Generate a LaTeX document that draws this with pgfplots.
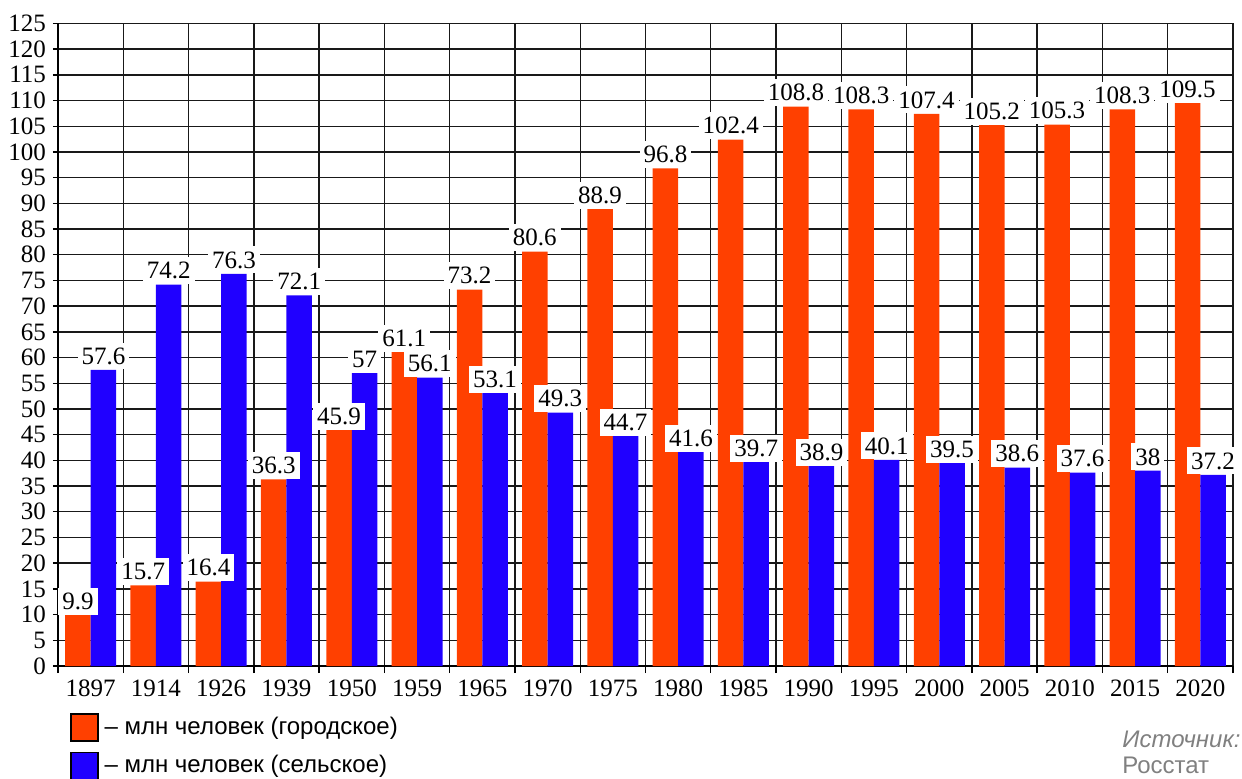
\documentclass[border=0pt]{standalone}
\usepackage{fontspec}
\setmainfont{Liberation Serif}
\newfontfamily\serf{Liberation Serif}
\newfontfamily\sansf{Liberation Sans}
\usepackage{pgfplots}
\usepackage{pgfplotstable}
\pgfplotsset{compat=1.18}
\definecolor{urb}{RGB}{255,64,0}
\definecolor{rur}{RGB}{32,0,255}
\pgfplotstableread{
x urban ulab rural rlab
0 9.9 9.9 57.6 57.6
1 15.7 15.7 74.2 74.2
2 16.4 16.4 76.3 76.3
3 36.3 36.3 72.1 72.1
4 45.9 45.9 57 57
5 61.1 61.1 56.1 56.1
6 73.2 73.2 53.1 53.1
7 80.6 80.6 49.3 49.3
8 88.9 88.9 44.7 44.7
9 96.8 96.8 41.6 41.6
10 102.4 102.4 39.7 39.7
11 108.8 108.8 38.9 38.9
12 108.3 108.3 40.1 40.1
13 107.4 107.4 39.5 39.5
14 105.2 105.2 38.6 38.6
15 105.3 105.3 37.6 37.6
16 108.3 108.3 38 38
17 109.5 109.5 37.2 37.2
}\data
\begin{document}
\begin{tikzpicture}
\path[use as bounding box] (-29pt,-56pt) rectangle (592pt,333pt);
\begin{axis}[
  scale only axis, width=587.5pt, height=321.3pt,
  xmin=-0.5, xmax=17.5, ymin=0, ymax=125,
  clip=false,
  ybar=0pt, bar width=12.75pt,
  xtick={0,...,17},
  xticklabels={1897,1914,1926,1939,1950,1959,1965,1970,1975,1980,1985,1990,1995,2000,2005,2010,2015,2020},
  minor xtick={-0.5,0.5,1.5,2.5,3.5,4.5,5.5,6.5,7.5,8.5,9.5,10.5,11.5,12.5,13.5,14.5,15.5,16.5,17.5},
  ytick={0,5,...,125},
  xmajorgrids=false, xminorgrids=true, ymajorgrids=true,
  grid style={black!90, line width=0.7pt},
  minor grid style={black!90, line width=0.7pt},
  axis lines*=left, axis line style={black, line width=1.2pt},
  tick align=outside, major tick length=2.5pt, minor tick length=3.5pt,
  every tick/.style={black, line width=0.7pt},
  every major x tick/.append style={draw=none},
  tick pos=left,
  tick label style={font=\serf\fontsize{12.5}{12.5}\selectfont, /pgf/number format/assume math mode=true},
  xticklabel style={yshift=-1pt},
  nodes near coords,
  point meta=explicit symbolic,
  nodes near coords style={font=\serf\fontsize{12.5}{12.5}\selectfont, fill=white, inner xsep=2pt, inner ysep=2.5pt, anchor=south},
  legend cell align=left,
  legend style={at={(0.0102,-0.073)}, anchor=north west, draw=none, fill=none,
    font=\sansf\fontsize{12}{12}\selectfont, inner sep=0pt, row sep=5pt,
    nodes={inner sep=1pt}},
]
\addplot[fill=urb, draw=none, legend image code/.code={\draw[fill=urb, draw=black, line width=0.6pt] (0pt,-6.75pt) rectangle (13.5pt,6.75pt);}]
  table[x=x, y=urban, meta=ulab] {\data};
\addlegendentry{\,– млн человек (городское)}
\addplot[fill=rur, draw=none, legend image code/.code={\draw[fill=rur, draw=black, line width=0.6pt] (0pt,-6.75pt) rectangle (13.5pt,6.75pt);}]
  table[x=x, y=rural, meta=rlab] {\data};
\addlegendentry{\,– млн человек (сельское)}
\node[anchor=north west, align=left, font=\sansf\fontsize{12}{13}\selectfont, text=black!50, inner sep=0pt]
  at (axis description cs:0.9055,-0.1) {{\itshape Источник:}\\Росстат};
\end{axis}
\end{tikzpicture}
\end{document}
